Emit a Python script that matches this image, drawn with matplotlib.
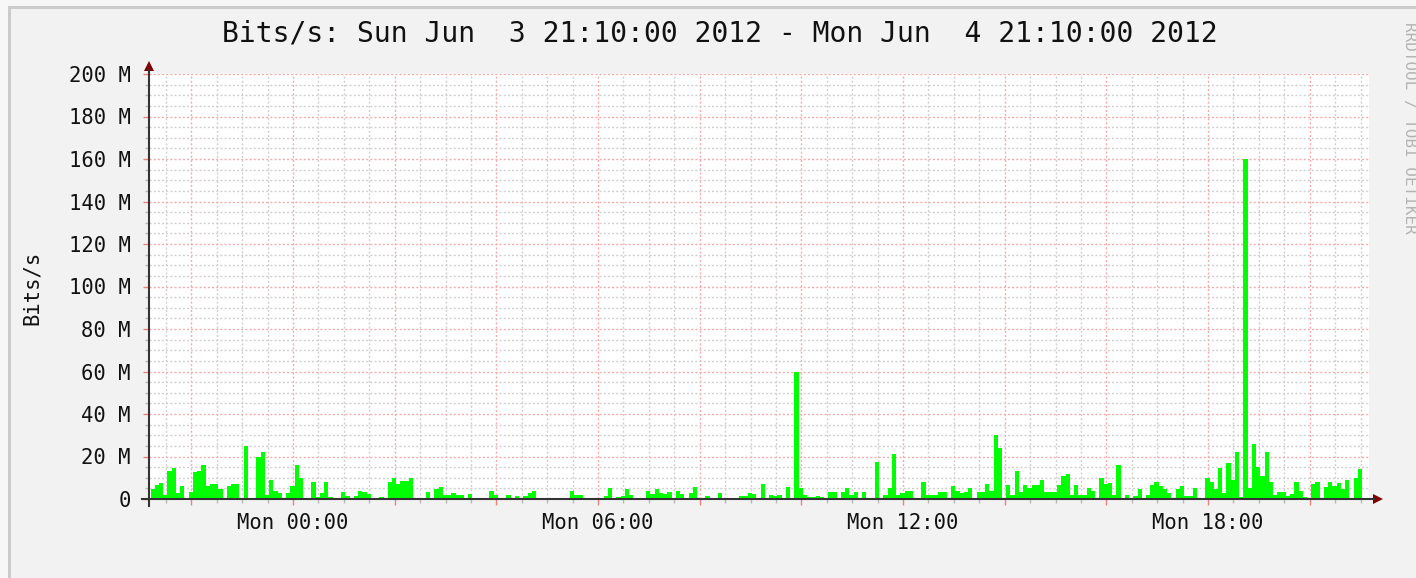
import numpy as np
import matplotlib.pyplot as plt
from matplotlib.ticker import MultipleLocator, FuncFormatter
from matplotlib.patches import Rectangle, Polygon
from matplotlib.lines import Line2D

# 5-minute averages in Mbit/s, starting Sun Jun 3 21:10 (one list per 6 hours)
sun2110_mon0310 = [4.5, 6.5, 7.5, 2, 13, 14.5, 3, 6, 0, 3.5, 12.5, 13,
                   16, 6, 7, 7, 4.5, 0, 6, 7, 7, 0, 25, 0,
                   0, 20, 22, 2, 9, 4, 3, 0, 3, 6, 16, 10,
                   0, 0, 8, 1, 3, 8, 1, 0, 0, 3.5, 1.5, 0,
                   1.5, 4, 3.5, 2.5, 0, 0, 1, 0, 8, 10, 7, 8.5,
                   8.5, 10, 0, 0, 0, 3.5, 0, 4.5, 5.5, 2, 2, 3]
mon0310_mon0910 = [2, 2, 0, 2.5, 0, 0, 0, 0, 4, 2, 0, 0,
                   2, 0, 1.5, 0.5, 1.5, 3, 4, 0, 0, 0, 0, 0,
                   0, 0, 0, 4, 2, 2, 0, 0, 0, 0, 0, 1.5,
                   5, 0, 1, 1.5, 4.5, 2, 0, 0, 0, 4, 2.5, 4.5,
                   3, 2.5, 3.5, 0, 4, 2.5, 0, 3, 5.5, 0, 0, 1.5,
                   0, 0, 3, 0, 0, 0, 0, 1.5, 1.5, 3, 2.5, 0]
mon0910_mon1510 = [7, 0, 2, 1.5, 2, 0, 5.5, 0, 60, 5, 2, 1,
                   1, 1.5, 1, 0, 3.3, 3.3, 0, 3.5, 5, 2, 3.5, 0,
                   3.5, 0, 0, 17.5, 0, 2, 5, 21, 2, 3, 4, 4,
                   0, 0, 8, 2, 2, 2, 3.5, 3.5, 0, 6, 4, 3,
                   3.5, 5, 0, 3.5, 3.5, 7, 4, 30, 24, 0, 6.5, 2,
                   13, 3.5, 6.5, 5, 6.5, 6.5, 9, 3.5, 3.5, 3.5, 6.5, 11]
mon1510_mon2110 = [12, 2, 6.5, 2, 2, 5, 4, 0, 10, 7, 7.5, 2,
                   16, 0, 2, 0, 1.5, 4.5, 0, 2, 6.5, 8, 6, 4.5,
                   3, 0, 4.5, 6, 1.5, 1.5, 5, 0, 0, 10, 8, 4.5,
                   14.5, 3, 17, 9, 22, 1, 160, 5, 26, 15, 11, 22,
                   8, 2, 3.5, 3.5, 1.5, 2.5, 8, 4, 1, 0, 7, 8,
                   0, 5.5, 8, 6, 7.5, 4.5, 9, 0, 10, 14, np.nan, np.nan]

title = 'Bits/s: Sun Jun  3 21:10:00 2012 - Mon Jun  4 21:10:00 2012'
start_hour = 21 + 10 / 60
label_hours = [0, 6, 12, 18]

vals = np.array(sun2110_mon0310 + mon0310_mon0910 + mon0910_mon1510 + mon1510_mon2110)
t = np.arange(len(vals)) / 12.0
ok = ~np.isnan(vals)

W, H = 1416, 578
fig = plt.figure(figsize=(W / 100, H / 100), dpi=100, facecolor='#f2f2f2')
def fx(px): return px / W
def fy(py): return 1 - py / H

# outer frame
fig.add_artist(Rectangle((0, fy(6)), 1, 1 - fy(6), transform=fig.transFigure, color='#f7f7f7', lw=0))
fig.add_artist(Rectangle((0, 0), fx(8), 1, transform=fig.transFigure, color='#f7f7f7', lw=0))
fig.add_artist(Rectangle((fx(8), fy(9)), 1, fy(6) - fy(9), transform=fig.transFigure, color='#cbcbcb', lw=0))
fig.add_artist(Rectangle((fx(8), 0), fx(3), fy(6), transform=fig.transFigure, color='#cbcbcb', lw=0))

mono = 'DejaVu Sans Mono'
ax = fig.add_axes([fx(149), fy(499), fx(1369) - fx(149), fy(74) - fy(499)])
ax.set_facecolor('white')
ax.bar(t[ok] + 0.03, vals[ok], width=1 / 12, align='edge', color='#00ff00', linewidth=0, zorder=2)
ax.set_xlim(0, 24)
ax.set_ylim(0, 200)

off = (24 - start_hour) % 2
ax.xaxis.set_major_locator(MultipleLocator(2, offset=off))
ax.xaxis.set_minor_locator(MultipleLocator(0.5, offset=off % 0.5))
ax.yaxis.set_major_locator(MultipleLocator(20))
ax.yaxis.set_minor_locator(MultipleLocator(5))

def xfmt(x, pos):
    hh = int(round(start_hour + x)) % 24
    return 'Mon %02d:00' % hh if hh in label_hours else ''
ax.xaxis.set_major_formatter(FuncFormatter(xfmt))
ax.yaxis.set_major_formatter(FuncFormatter(lambda v, p: '0' if v == 0 else '%d M' % v))

ax.set_axisbelow(True)
ax.grid(which='minor', color='#d0d0d0', linestyle=(0, (1.5, 1.5)), lw=1)
ax.grid(which='major', color='#f6acac', linestyle=(0, (1.5, 1.5)), lw=1)
ax.tick_params(which='major', direction='out', length=4, width=1, color='#f08080')
ax.tick_params(which='minor', direction='out', length=3, width=1, color='#b8b8b8')
ax.tick_params(axis='x', pad=6)
ax.tick_params(axis='y', pad=9)
for lab in ax.get_xticklabels() + ax.get_yticklabels():
    lab.set_fontfamily(mono)
    lab.set_fontsize(14.8)
    lab.set_color('#111111')
for s in ax.spines.values():
    s.set_visible(False)

# axes with arrows
fig.add_artist(Line2D([fx(142), fx(1374)], [fy(499), fy(499)], transform=fig.transFigure, color='#333333', lw=1.5))
fig.add_artist(Line2D([fx(149), fx(149)], [fy(506), fy(70)], transform=fig.transFigure, color='#333333', lw=1.5))
fig.add_artist(Polygon([[fx(1373), fy(494)], [fx(1383), fy(499)], [fx(1373), fy(504)]],
                       closed=True, transform=fig.transFigure, color='#7f0000', lw=0))
fig.add_artist(Polygon([[fx(144), fy(71)], [fx(149), fy(61)], [fx(154), fy(71)]],
                       closed=True, transform=fig.transFigure, color='#7f0000', lw=0))

fig.text(fx(720), fy(33), title, ha='center', va='center', fontsize=20.2, family=mono, color='#111111')
fig.text(fx(32), fy(288), 'Bits/s', rotation=90, ha='center', va='center', fontsize=14.8, family=mono,
         color='#111111')
fig.text(fx(1409), fy(22), 'RRDTOOL / TOBI OETIKER', rotation=270, ha='center', va='top',
         fontsize=11.5, family=mono, color='#b4b4b4')

fig.savefig('out.png', dpi=100, facecolor=fig.get_facecolor())
